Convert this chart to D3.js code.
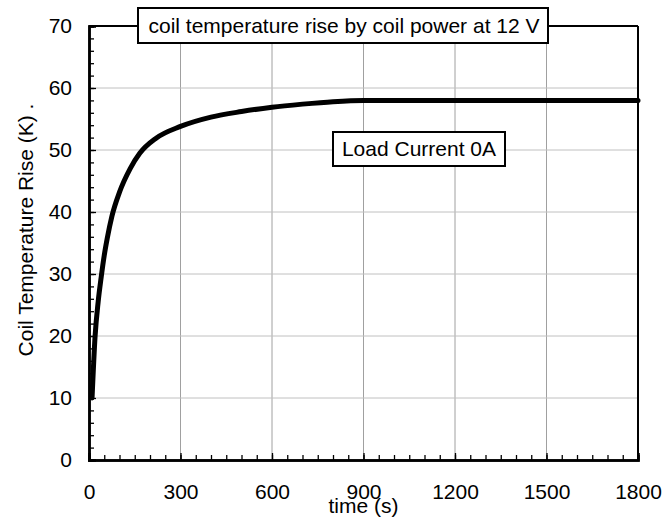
<!DOCTYPE html>
<html>
<head>
<meta charset="utf-8">
<script src="https://cdn.jsdelivr.net/npm/d3@7"></script>
<style>
body { margin: 0; background: #fff; }
text { font-family: "Liberation Sans", Arial, sans-serif; fill: #000; }
</style>
</head>
<body>
<script>
// Data
var times = [10, 20, 30, 40, 50, 60, 75, 100, 135, 167, 220, 300, 400, 500, 600, 700, 800, 900, 1000, 1200, 1500, 1800];
var temps = [10, 20, 25.5, 29.5, 33, 35.8, 39.3, 43.2, 47, 49.5, 51.9, 53.8, 55.3, 56.2, 56.9, 57.4, 57.8, 58, 58, 58, 58, 58];
var xTicks = [0, 300, 600, 900, 1200, 1500, 1800];
var yTicks = [0, 10, 20, 30, 40, 50, 60, 70];
var title = "coil temperature rise by coil power at 12 V";
var note = "Load Current 0A";
var xLabel = "time (s)";
var yLabel = "Coil Temperature Rise (K) .";

// Dimensions
var width = 665;
var height = 523;
var margin = { top: 26, right: 27, bottom: 63, left: 89 };
var w = width - margin.left - margin.right;
var h = height - margin.top - margin.bottom;

var svg = d3.select("body")
  .append("svg")
  .attr("width", width)
  .attr("height", height);

var g = svg.append("g")
  .attr("transform", "translate(" + margin.left + "," + margin.top + ")");

// Scales
var x = d3.scaleLinear().domain([0, 1800]).range([0, w]);
var y = d3.scaleLinear().domain([0, 70]).range([h, 0]);

// Grid lines
g.selectAll(".vgrid")
  .data(xTicks.slice(1, -1))
  .enter()
  .append("line")
  .attr("x1", function (d) { return x(d); })
  .attr("x2", function (d) { return x(d); })
  .attr("y1", 0)
  .attr("y2", h)
  .attr("stroke", "#a0a0a0")
  .attr("stroke-width", 1);

g.selectAll(".hgrid")
  .data(yTicks.slice(1, -1))
  .enter()
  .append("line")
  .attr("x1", 0)
  .attr("x2", w)
  .attr("y1", function (d) { return y(d); })
  .attr("y2", function (d) { return y(d); })
  .attr("stroke", "#c0c0c0")
  .attr("stroke-width", 1);

// Frame (top and right)
g.append("line").attr("x1", 0).attr("x2", w).attr("y1", 0).attr("y2", 0)
  .attr("stroke", "#000").attr("stroke-width", 2);
g.append("line").attr("x1", w).attr("x2", w).attr("y1", 0).attr("y2", h)
  .attr("stroke", "#000").attr("stroke-width", 2);

// Axes: inward ticks, minor and major
var xMinor = g.append("g").attr("transform", "translate(0," + h + ")")
  .call(d3.axisBottom(x).ticks(36).tickSize(-5).tickFormat(""));
var xMajor = g.append("g").attr("transform", "translate(0," + h + ")")
  .call(d3.axisBottom(x).tickValues(xTicks).tickSize(-7).tickPadding(17)
    .tickFormat(d3.format("d")));
var yMinor = g.append("g")
  .call(d3.axisLeft(y).ticks(35).tickSize(-5).tickFormat(""));
var yMajor = g.append("g")
  .call(d3.axisLeft(y).tickValues(yTicks).tickSize(-7).tickPadding(17)
    .tickFormat(d3.format("d")));

[xMinor, xMajor, yMinor, yMajor].forEach(function (a) {
  a.select(".domain").attr("stroke", "#000").attr("stroke-width", 2.5);
  a.selectAll(".tick line").attr("stroke", "#000").attr("stroke-width", 1.3);
  a.selectAll("text").style("font-size", "21px")
    .style("font-family", "'Liberation Sans', Arial, sans-serif");
});
xMajor.selectAll("text").attr("dy", "0.71em").attr("y", 24);
yMajor.selectAll("text").attr("x", -17);

// Curve
var line = d3.line()
  .x(function (d) { return x(d[0]); })
  .y(function (d) { return y(d[1]); })
  .curve(d3.curveMonotoneX);

g.append("path")
  .datum(d3.zip(times, temps))
  .attr("d", line)
  .attr("fill", "none")
  .attr("stroke", "#000")
  .attr("stroke-width", 5)
  .attr("stroke-linecap", "round")
  .attr("stroke-linejoin", "round");

// Title box
svg.append("rect")
  .attr("x", 138).attr("y", 8).attr("width", 410).attr("height", 35)
  .attr("fill", "#fff").attr("stroke", "#000").attr("stroke-width", 2);
svg.append("text")
  .attr("x", 344).attr("y", 33)
  .attr("text-anchor", "middle")
  .style("font-size", "21px")
  .text(title);

// Note box
svg.append("rect")
  .attr("x", 333).attr("y", 132).attr("width", 172).attr("height", 34)
  .attr("fill", "#fff").attr("stroke", "#000").attr("stroke-width", 2);
svg.append("text")
  .attr("x", 419).attr("y", 156)
  .attr("text-anchor", "middle")
  .style("font-size", "21px")
  .text(note);

// Axis labels
svg.append("text")
  .attr("x", margin.left + w / 2).attr("y", 513)
  .attr("text-anchor", "middle")
  .style("font-size", "21px")
  .text(xLabel);

svg.append("text")
  .attr("transform", "translate(33,230) rotate(-90)")
  .attr("text-anchor", "middle")
  .style("font-size", "21px")
  .text(yLabel);
</script>
</body>
</html>
